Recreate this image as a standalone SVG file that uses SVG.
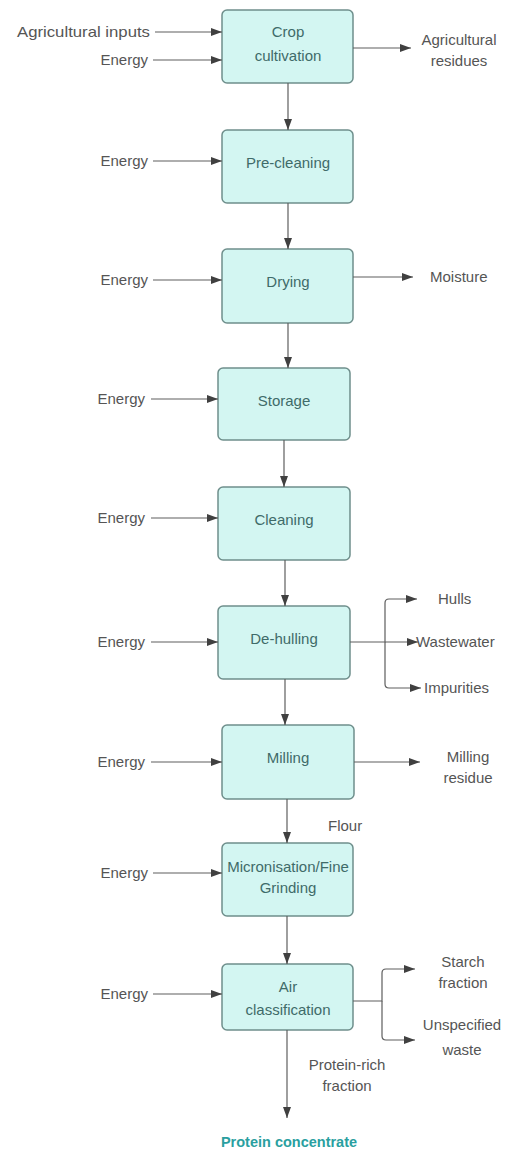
<svg xmlns="http://www.w3.org/2000/svg" width="506" height="1154" viewBox="0 0 506 1154">
  <style>
    .box { fill: #d3f6f2; stroke: #6f8f8c; stroke-width: 1.5; }
    .bt { font-family: "Liberation Sans", Arial, sans-serif; font-size: 15px; fill: #3f6b69; text-anchor: middle; }
    .lb { font-family: "Liberation Sans", Arial, sans-serif; font-size: 15px; fill: #555; }
    .end { text-anchor: end; }
    .mid { text-anchor: middle; }
    .ln { fill: none; stroke: #5e5e5e; stroke-width: 1.2; }
    .arr { marker-end: url(#ah); }
    .final { font-family: "Liberation Sans", Arial, sans-serif; font-size: 14.5px; font-weight: bold; fill: #2a9fa0; text-anchor: middle; }
  </style>
  <defs>
    <marker id="ah" markerUnits="userSpaceOnUse" markerWidth="12" markerHeight="8" refX="11" refY="4" orient="auto">
      <path d="M0,0 L11,4 L0,8 Z" fill="#404040"/>
    </marker>
  </defs>
  <rect width="506" height="1154" fill="#fff"/>

  <!-- process steps -->
  <g id="crop-cultivation">
    <rect class="box" x="222" y="10" width="131" height="73" rx="5"/>
    <text class="bt" x="288" y="37">Crop</text>
    <text class="bt" x="288" y="61">cultivation</text>
  </g>
  <g id="pre-cleaning">
    <rect class="box" x="222" y="130" width="131" height="73" rx="5"/>
    <text class="bt" x="288" y="168">Pre-cleaning</text>
  </g>
  <g id="drying">
    <rect class="box" x="222" y="249" width="131" height="74" rx="5"/>
    <text class="bt" x="288" y="287">Drying</text>
  </g>
  <g id="storage">
    <rect class="box" x="218" y="368" width="132" height="72" rx="5"/>
    <text class="bt" x="284" y="406">Storage</text>
  </g>
  <g id="cleaning">
    <rect class="box" x="218" y="487" width="132" height="73" rx="5"/>
    <text class="bt" x="284" y="525">Cleaning</text>
  </g>
  <g id="de-hulling">
    <rect class="box" x="218" y="606" width="132" height="73" rx="5"/>
    <text class="bt" x="284" y="644">De-hulling</text>
  </g>
  <g id="milling">
    <rect class="box" x="222" y="725" width="132" height="74" rx="5"/>
    <text class="bt" x="288" y="763">Milling</text>
  </g>
  <g id="micronisation">
    <rect class="box" x="222" y="843" width="131" height="73" rx="5"/>
    <text class="bt" x="288" y="872">Micronisation/Fine</text>
    <text class="bt" x="288" y="893">Grinding</text>
  </g>
  <g id="air-classification">
    <rect class="box" x="222" y="964" width="131" height="66" rx="5"/>
    <text class="bt" x="288" y="992">Air</text>
    <text class="bt" x="288" y="1015">classification</text>
  </g>

  <!-- flows -->
  <g id="connectors">
    <!-- main product line -->
    <path class="ln arr" d="M288,83 V130"/>
    <path class="ln arr" d="M288,203 V249"/>
    <path class="ln arr" d="M288,323 V368"/>
    <path class="ln arr" d="M284,440 V487"/>
    <path class="ln arr" d="M285,560 V606"/>
    <path class="ln arr" d="M285,679 V725"/>
    <path class="ln arr" d="M287,799 V843"/>
    <path class="ln arr" d="M287,916 V964"/>
    <path class="ln arr" d="M287,1030 V1118"/>

    <!-- inputs -->
    <path class="ln arr" d="M155,32 H222"/>
    <path class="ln arr" d="M153,60 H222"/>
    <path class="ln arr" d="M153,161 H222"/>
    <path class="ln arr" d="M153,280 H222"/>
    <path class="ln arr" d="M151,399 H218"/>
    <path class="ln arr" d="M151,518 H218"/>
    <path class="ln arr" d="M151,642 H218"/>
    <path class="ln arr" d="M151,762 H222"/>
    <path class="ln arr" d="M153,873 H222"/>
    <path class="ln arr" d="M153,994 H222"/>

    <!-- outputs -->
    <path class="ln arr" d="M353,48 H411"/>
    <path class="ln arr" d="M353,277 H413"/>
    <!-- de-hulling splits three ways -->
    <path class="ln arr" d="M350,642 H385 V603 Q385,599 389,599 H417"/>
    <path class="ln arr" d="M385,642 H418"/>
    <path class="ln arr" d="M385,642 V684 Q385,688 389,688 H421"/>
    <path class="ln arr" d="M354,762 H420"/>
    <!-- air classification splits two ways -->
    <path class="ln arr" d="M353,1001 H382 V973 Q382,969 386,969 H415"/>
    <path class="ln arr" d="M382,1001 V1036 Q382,1040 386,1040 H415"/>
  </g>

  <!-- stream labels -->
  <g id="labels">
    <text class="lb end" x="150" y="37" textLength="133" lengthAdjust="spacingAndGlyphs">Agricultural inputs</text>
    <text class="lb end" x="148" y="65">Energy</text>
    <text class="lb end" x="148" y="166">Energy</text>
    <text class="lb end" x="148" y="285">Energy</text>
    <text class="lb end" x="145" y="404">Energy</text>
    <text class="lb end" x="145" y="523">Energy</text>
    <text class="lb end" x="145" y="647">Energy</text>
    <text class="lb end" x="145" y="767">Energy</text>
    <text class="lb end" x="148" y="878">Energy</text>
    <text class="lb end" x="148" y="999">Energy</text>

    <text class="lb mid" x="459" y="45">Agricultural</text>
    <text class="lb mid" x="459" y="66">residues</text>
    <text class="lb" x="430" y="282">Moisture</text>
    <text class="lb" x="438" y="604">Hulls</text>
    <text class="lb" x="416" y="647">Wastewater</text>
    <text class="lb" x="424" y="693">Impurities</text>
    <text class="lb mid" x="468" y="762">Milling</text>
    <text class="lb mid" x="468" y="783">residue</text>
    <text class="lb" x="328" y="831">Flour</text>
    <text class="lb mid" x="463" y="967">Starch</text>
    <text class="lb mid" x="463" y="988">fraction</text>
    <text class="lb mid" x="462" y="1030">Unspecified</text>
    <text class="lb mid" x="462" y="1055">waste</text>
    <text class="lb mid" x="347" y="1070">Protein-rich</text>
    <text class="lb mid" x="347" y="1091">fraction</text>
  </g>

  <g id="protein-concentrate">
    <text class="final" x="289" y="1147">Protein concentrate</text>
  </g>
</svg>
